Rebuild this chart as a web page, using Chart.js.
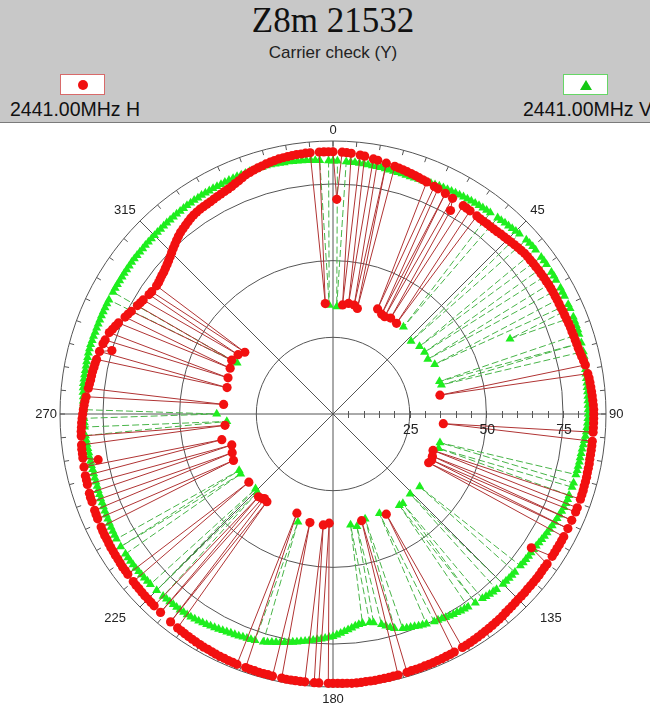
<!DOCTYPE html>
<html>
<head>
<meta charset="utf-8">
<script src="https://cdn.jsdelivr.net/npm/chart.js@4.4.1/dist/chart.umd.min.js"></script>
<style>
  body { margin: 0; width: 650px; height: 707px; overflow: hidden; background: #fff; font-family: Arial, "Liberation Sans", sans-serif; }
  #head { position: absolute; left: 0; top: 0; width: 650px; height: 122px; background: #c8c8c8; border-bottom: 1px solid #7a7a7a; overflow: hidden; }
  #title { position: absolute; left: 0; top: 3px; width: 666px; text-align: center; font-size: 35px; line-height: 35px; color: #111; }
  #sub { position: absolute; left: 0; top: 44px; width: 666px; text-align: center; font-size: 17px; line-height: 17px; color: #222; }
  .box { position: absolute; top: 74px; width: 43px; height: 19px; background: #fff; }
  #boxH { left: 60px; border: 1px solid #d86a6a; }
  #boxV { left: 563px; border: 1px solid #66d666; }
  #boxH span { position: absolute; left: 17px; top: 5px; width: 10px; height: 10px; border-radius: 50%; background: #f01010; }
  #boxV span { position: absolute; left: 16px; top: 5px; width: 0; height: 0; border-left: 6px solid transparent; border-right: 6px solid transparent; border-bottom: 10px solid #14c814; }
  .lt { position: absolute; top: 100px; font-size: 19.5px; line-height: 19px; color: #111; white-space: nowrap; }
  #txtH { left: 10px; }
  #txtV { left: 523px; }
  #chartWrap { position: absolute; left: 0; top: 123px; width: 650px; height: 584px; }
</style>
</head>
<body>
<div id="head">
  <div id="title" style="font-family:'Liberation Serif'">Z8m 21532</div>
  <div id="sub">Carrier check (Y)</div>
  <div class="box" id="boxH"><span></span></div>
  <div class="lt" id="txtH">2441.00MHz H</div>
  <div class="box" id="boxV"><span></span></div>
  <div class="lt" id="txtV">2441.00MHz V</div>
</div>
<div id="chartWrap"><canvas id="polar" width="650" height="584"></canvas></div>
<script>
// one sample per degree, 0 at top, clockwise
const degrees = Array.from({ length: 360 }, (_, i) => i);
const angleTicks = [0, 45, 90, 135, 180, 225, 270, 315];
const radialTicks = [25, 50, 75];
const rMax = 89;

// 2441.00MHz H - main pattern
const hBand = [
  85.5, 85.4, 85.4, 85.3, 85.2, 85.0, 84.9, 84.7, 84.5, 84.2,
  84.0, 83.8, 83.6, 83.4, 83.2, 83.0, 82.8, 82.6, 82.4, 82.2,
  82.0, 81.8, 81.6, 81.4, 81.2, 81.0, 80.9, 80.7, 80.6, 80.4,
  80.3, 80.2, 80.1, 80.0, 79.9, 79.8, 79.8, 79.7, 79.7, 79.8,
  79.8, 79.9, 80.0, 80.2, 80.3, 80.5, 80.7, 80.9, 81.1, 81.3,
  81.5, 81.6, 81.6, 81.7, 81.7, 81.8, 81.8, 81.9, 81.9, 82.0,
  82.0, 82.0, 82.0, 82.0, 82.0, 82.0, 82.1, 82.1, 82.2, 82.3,
  82.4, 82.4, 82.5, 82.6, 82.7, 82.8, 83.0, 83.2, 83.5, 83.8,
  84.0, 84.1, 84.3, 84.4, 84.5, 84.6, 84.7, 84.8, 84.9, 85.0,
  85.0, 85.0, 85.0, 85.0, 85.0, 85.0, 85.0, 85.0, 85.0, 85.0,
  85.0, 85.1, 85.1, 85.1, 85.2, 85.2, 85.2, 85.3, 85.3, 85.3,
  85.3, 85.3, 85.3, 85.2, 85.2, 85.2, 85.2, 85.2, 85.2, 85.2,
  85.2, 85.2, 85.2, 85.2, 85.2, 85.2, 85.2, 85.2, 85.3, 85.3,
  85.3, 85.3, 85.3, 85.4, 85.4, 85.4, 85.5, 85.6, 85.7, 85.8,
  86.0, 86.1, 86.2, 86.3, 86.4, 86.5, 86.6, 86.7, 86.8, 86.9,
  87.0, 87.0, 87.1, 87.1, 87.2, 87.2, 87.3, 87.3, 87.4, 87.4,
  87.4, 87.5, 87.5, 87.5, 87.6, 87.6, 87.7, 87.7, 87.8, 87.8,
  87.8, 87.9, 87.9, 87.9, 88.0, 88.0, 88.0, 87.9, 87.9, 87.8,
  87.8, 87.8, 87.8, 87.8, 87.8, 87.8, 87.8, 87.8, 87.8, 87.8,
  87.8, 87.7, 87.7, 87.7, 87.6, 87.6, 87.6, 87.5, 87.5, 87.4,
  87.4, 87.4, 87.3, 87.3, 87.2, 87.2, 87.1, 87.0, 86.9, 86.9,
  86.8, 86.7, 86.6, 86.5, 86.4, 86.3, 86.2, 86.1, 86.0, 85.9,
  85.8, 85.7, 85.6, 85.5, 85.4, 85.3, 85.3, 85.2, 85.1, 85.1,
  85.0, 84.9, 84.9, 84.8, 84.8, 84.7, 84.6, 84.6, 84.5, 84.5,
  84.4, 84.3, 84.3, 84.2, 84.1, 84.0, 84.0, 83.9, 83.8, 83.7,
  83.6, 83.6, 83.5, 83.4, 83.3, 83.2, 83.2, 83.1, 83.0, 82.9,
  82.8, 82.7, 82.7, 82.6, 82.5, 82.4, 82.3, 82.1, 82.0, 81.8,
  81.6, 81.4, 81.2, 81.0, 80.7, 80.4, 80.2, 80.0, 79.8, 79.7,
  79.6, 79.4, 79.3, 79.1, 79.0, 78.8, 78.6, 78.4, 78.1, 77.9,
  77.6, 77.0, 76.5, 76.0, 75.4, 74.8, 74.3, 73.8, 73.3, 72.9,
  72.5, 72.2, 71.8, 71.5, 71.3, 71.2, 71.1, 71.2, 71.5, 71.8,
  72.0, 72.4, 72.8, 73.3, 73.8, 74.4, 75.0, 75.6, 76.2, 76.8,
  77.3, 77.7, 78.1, 78.5, 78.9, 79.2, 79.4, 79.6, 79.7, 79.8,
  79.9, 80.1, 80.3, 80.5, 80.7, 80.9, 81.2, 81.6, 82.0, 82.5,
  83.0, 83.3, 83.6, 83.9, 84.1, 84.4, 84.6, 84.8, 85.0, 85.1,
  85.2, 85.3, 85.4, 85.4, 85.5, 85.5, 85.5, 85.5, 85.5, 85.5
];
// H samples that fell in (angle, level)
const hDropAngle = [1, 5, 8, 11, 13, 23, 26, 28, 30, 31, 35, 80, 95, 110, 113, 115, 117, 124, 152, 165, 182, 185,
  192, 200, 217, 219, 220, 222, 231, 245, 249, 253, 257, 259, 264, 275, 284, 286, 289, 294, 298, 302, 305, 356];
const hDropValue = [70, 35.7, 36.4, 36.2, 35.3, 37.2, 36.2, 35.9, 76.6, 36.5, 36.1, 35.4, 36.1, 34.7, 35.2, 35.5, 35.0, 78, 37.0, 36.0, 35.6, 36.3,
  36.2, 34.4, 35.8, 35.5, 36.0, 36.3, 35.3, 35.8, 35.2, 34.5, 37.2, 78, 35.4, 35.8, 35.6, 75, 36.2, 36.7, 37.4, 36.5, 35.1, 36.1];

// 2441.00MHz V - main pattern
const vBand = [
  82.5, 82.5, 82.4, 82.4, 82.3, 82.3, 82.2, 82.2, 82.1, 82.0,
  82.0, 81.9, 81.8, 81.7, 81.6, 81.5, 81.5, 81.4, 81.4, 81.4,
  81.5, 81.5, 81.6, 81.7, 81.8, 82.0, 82.1, 82.2, 82.3, 82.4,
  82.5, 82.6, 82.7, 82.8, 82.9, 83.0, 83.1, 83.2, 83.3, 83.4,
  83.5, 83.6, 83.8, 83.9, 84.1, 84.3, 84.5, 84.6, 84.8, 84.9,
  85.0, 85.0, 85.0, 85.0, 85.0, 85.0, 85.0, 84.9, 84.9, 84.8,
  84.8, 84.8, 84.7, 84.7, 84.6, 84.6, 84.6, 84.5, 84.5, 84.4,
  84.4, 84.4, 84.3, 84.3, 84.2, 84.2, 84.1, 84.0, 83.9, 83.7,
  83.6, 83.5, 83.4, 83.4, 83.3, 83.3, 83.3, 83.2, 83.2, 83.2,
  83.2, 83.1, 83.0, 82.9, 82.8, 82.6, 82.4, 82.2, 82.0, 81.9,
  81.8, 81.8, 81.7, 81.7, 81.6, 81.6, 81.6, 81.5, 81.5, 81.4,
  81.4, 81.3, 81.2, 81.0, 80.8, 80.6, 80.4, 80.2, 80.0, 79.8,
  79.6, 79.4, 79.2, 79.0, 78.9, 78.8, 78.8, 78.7, 78.7, 78.6,
  78.6, 78.6, 78.5, 78.5, 78.4, 78.4, 78.3, 78.2, 78.0, 77.8,
  77.6, 77.4, 77.3, 77.1, 77.0, 76.8, 76.6, 76.5, 76.3, 76.2,
  76.0, 75.8, 75.6, 75.4, 75.3, 75.1, 74.9, 74.7, 74.5, 74.2,
  74.0, 73.8, 73.5, 73.2, 72.7, 72.0, 71.2, 70.4, 69.8, 69.3,
  69.0, 68.9, 68.9, 69.1, 69.5, 70.0, 70.5, 71.0, 71.5, 72.0,
  72.5, 72.8, 73.1, 73.4, 73.7, 74.0, 74.3, 74.6, 74.9, 75.2,
  75.5, 75.8, 76.1, 76.4, 76.7, 77.0, 77.4, 77.7, 77.9, 78.1,
  78.2, 78.3, 78.4, 78.6, 78.7, 78.8, 79.0, 79.2, 79.4, 79.6,
  79.8, 80.0, 80.2, 80.4, 80.6, 80.8, 80.9, 80.9, 81.0, 81.0,
  81.0, 81.1, 81.1, 81.2, 81.2, 81.3, 81.3, 81.4, 81.4, 81.5,
  81.5, 81.5, 81.6, 81.6, 81.6, 81.6, 81.6, 81.6, 81.6, 81.5,
  81.5, 81.4, 81.3, 81.2, 81.1, 81.0, 80.9, 80.8, 80.7, 80.6,
  80.6, 80.5, 80.5, 80.4, 80.4, 80.4, 80.4, 80.4, 80.5, 80.5,
  80.6, 80.6, 80.7, 80.8, 80.9, 81.0, 81.0, 81.1, 81.1, 81.2,
  81.2, 81.3, 81.4, 81.5, 81.6, 81.8, 81.9, 82.0, 82.0, 82.0,
  82.0, 82.0, 82.1, 82.1, 82.2, 82.2, 82.2, 82.1, 82.1, 82.0,
  82.0, 82.0, 82.0, 82.0, 82.0, 82.0, 82.0, 82.0, 82.0, 82.0,
  82.0, 82.0, 82.0, 82.0, 82.1, 82.1, 82.1, 82.2, 82.2, 82.2,
  82.2, 82.2, 82.3, 82.3, 82.3, 82.3, 82.4, 82.4, 82.5, 82.6,
  82.6, 82.7, 82.8, 82.8, 82.9, 83.0, 83.0, 83.1, 83.1, 83.2,
  83.2, 83.2, 83.3, 83.3, 83.3, 83.4, 83.4, 83.4, 83.5, 83.5,
  83.5, 83.6, 83.6, 83.7, 83.7, 83.8, 83.8, 83.7, 83.6, 83.5,
  83.5, 83.4, 83.3, 83.2, 83.1, 83.0, 82.9, 82.8, 82.7, 82.6
];
const vDropAngle = [2, 39, 47, 52, 56, 60, 64, 67, 73, 75, 105, 108, 130, 136, 142, 144, 155, 163, 168, 171,
  198, 224, 226, 237, 239, 266, 270, 298, 358];
const vDropValue = [35.0, 36.5, 34.8, 35.8, 36.0, 35.7, 36.9, 62.7, 36.3, 36.6, 36.1, 36.2, 36.9, 36.2, 37.0, 36.8, 35.8, 35.8, 37.5, 36.6,
  37.0, 35.5, 35.1, 35.9, 35.7, 34.7, 37.9, 35.4, 35.5];

const hData = hBand.slice();
hDropAngle.forEach((a, i) => { hData[a] = hDropValue[i]; });
const vData = vBand.slice();
vDropAngle.forEach((a, i) => { vData[a] = vDropValue[i]; });

const gridColor = "#555555";

// ring ticks, axis ticks and the text labels round the plot
const polarMarks = {
  id: "polarMarks",
  beforeDatasetsDraw(chart) {
    const s = chart.scales.r;
    const ctx = chart.ctx;
    const R = s.drawingArea;
    ctx.save();
    ctx.strokeStyle = gridColor;
    ctx.lineWidth = 1;
    ctx.beginPath();
    for (let a = 0; a < 360; a += 5) {
      const p1 = s.getPointPosition(a, R);
      const p2 = s.getPointPosition(a, R - 5);
      ctx.moveTo(p1.x, p1.y);
      ctx.lineTo(p2.x, p2.y);
    }
    for (let v = 5; v < rMax; v += 5) {
      const x = Math.round(s.xCenter + s.getDistanceFromCenterForValue(v)) + 0.5;
      ctx.moveTo(x, s.yCenter - 3);
      ctx.lineTo(x, s.yCenter + 4);
    }
    ctx.stroke();
    ctx.restore();
  },
  afterDatasetsDraw(chart) {
    const s = chart.scales.r;
    const ctx = chart.ctx;
    const R = s.drawingArea;
    ctx.save();
    ctx.fillStyle = "#222";
    ctx.font = "14px Arial, 'Liberation Sans', sans-serif";
    ctx.textAlign = "center";
    ctx.textBaseline = "middle";
    radialTicks.forEach(v => {
      ctx.fillText(String(v), s.xCenter + s.getDistanceFromCenterForValue(v) + 1, s.yCenter + 16);
    });
    ctx.font = "13px Arial, 'Liberation Sans', sans-serif";
    angleTicks.forEach(a => {
      let gap = 7, dx = 0, align = "center", base = "middle";
      if (a === 0) { base = "bottom"; gap = 4; }
      if (a === 180) { base = "top"; gap = 6; }
      if (a === 90) { align = "left"; gap = 3; }
      if (a === 270) { align = "right"; gap = 3; }
      if (a === 45) { align = "left"; base = "bottom"; gap = 6; }
      if (a === 315) { align = "right"; base = "bottom"; gap = 6; }
      if (a === 135) { align = "left"; base = "top"; dx = 9; }
      if (a === 225) { align = "right"; base = "top"; dx = -9; }
      const p = s.getPointPosition(a, R + gap);
      ctx.textAlign = align;
      ctx.textBaseline = base;
      ctx.fillText(String(a), p.x + dx, p.y);
    });
    ctx.restore();
  }
};

new Chart(document.getElementById("polar"), {
  type: "radar",
  data: {
    labels: degrees,
    datasets: [
      {
        label: "2441.00MHz H",
        data: hData,
        borderColor: "#b03434",
        borderWidth: 1,
        fill: false,
        clip: false,
        pointStyle: "circle",
        pointRadius: 4.6,
        pointBorderWidth: 0,
        pointBackgroundColor: "#f21010",
        pointBorderColor: "#f21010"
      },
      {
        label: "2441.00MHz V",
        data: vData,
        borderColor: "#48b448",
        borderWidth: 1,
        borderDash: [7, 3],
        fill: false,
        clip: false,
        pointStyle: "triangle",
        pointRadius: 5.2,
        pointBorderWidth: 0,
        pointBackgroundColor: "#1eee1e",
        pointBorderColor: "#1eee1e"
      }
    ]
  },
  options: {
    responsive: false,
    animation: false,
    layout: { padding: { left: 60, right: 44, top: 18, bottom: 20 } },
    elements: { line: { tension: 0 } },
    plugins: { legend: { display: false }, tooltip: { enabled: false } },
    scales: {
      r: {
        min: 0,
        max: rMax,
        afterBuildTicks: scale => {
          scale.ticks = [0].concat(radialTicks, [rMax]).map(v => ({ value: v }));
        },
        ticks: { display: false },
        pointLabels: { display: false },
        grid: { circular: true, color: gridColor, lineWidth: 1 },
        angleLines: {
          color: ctx => (ctx.index % 45 === 0 ? gridColor : "rgba(0,0,0,0)"),
          lineWidth: ctx => (ctx.index % 45 === 0 ? 1 : 0)
        }
      }
    }
  },
  plugins: [polarMarks]
});
</script>
</body>
</html>
